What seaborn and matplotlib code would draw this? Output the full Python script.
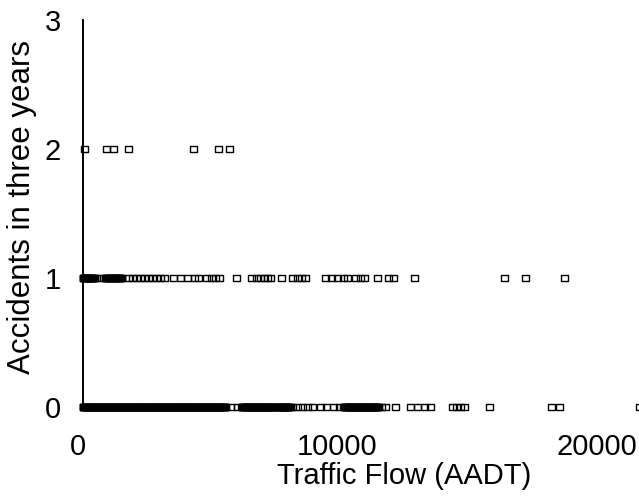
import matplotlib
matplotlib.use("Agg")
import matplotlib.pyplot as plt
import matplotlib.transforms as mtransforms
from matplotlib.path import Path
import seaborn as sns
import pandas as pd

# ---- data (AADT values) ----
aadt_two = [40, 890, 1160, 1740, 4250, 5210, 5640]

aadt_one = [0, 0, 15, 30, 50, 70, 90, 110, 135, 160, 180, 200, 225, 250, 275,
            300, 320, 340, 365, 390, 415, 440, 540, 730,
            850, 880, 910, 940, 970, 1000, 1030, 1060, 1090, 1120, 1150, 1180,
            1210, 1240, 1270, 1300, 1330, 1360, 1390, 1420, 1450, 1475, 1500,
            1737, 1892, 2046, 2201, 2355, 2510, 2664, 2819, 2973, 3127,
            3475, 3745, 4015, 4286, 4440, 4749, 4942, 5097, 5251, 5907,
            6486, 6680, 6834, 6988, 7100, 7220, 7645, 8069, 8263, 8417, 8571,
            9344, 9575, 9807, 10039, 10193, 10502, 10695, 10849, 11351,
            11776, 11969, 12780, 16255, 17066, 18571]

aadt_zero = [0, 0, 20, 35, 60, 85, 110, 130, 150, 180, 210, 235, 260, 280,
             300, 325, 350, 380, 410, 435, 460, 480, 500, 530, 560, 585, 610,
             635, 660, 680, 700, 730, 760, 785, 810, 830, 850, 880, 910, 935,
             960, 985, 1010, 1035, 1060, 1080, 1100, 1130, 1160, 1185, 1210,
             1230, 1250, 1280, 1310, 1335, 1360, 1385, 1410, 1435, 1460, 1480,
             1500, 1530, 1560, 1585, 1610, 1630, 1650, 1680, 1710, 1735, 1760,
             1780, 1800, 1830, 1860, 1885, 1910, 1935, 1960, 1985, 2010, 2030,
             2050, 2080, 2110, 2135, 2160, 2180, 2200, 2230, 2260, 2285, 2310,
             2335, 2360, 2385, 2410, 2430, 2450, 2480, 2510, 2535, 2560, 2580,
             2600, 2630, 2660, 2685, 2710, 2735, 2760, 2785, 2810, 2830, 2850,
             2880, 2910, 2935, 2960, 2980, 3000, 3030, 3060, 3085, 3110, 3135,
             3160, 3185, 3210, 3230, 3250, 3280, 3310, 3335, 3360, 3380, 3400,
             3430, 3460, 3485, 3510, 3535, 3560, 3585, 3610, 3630, 3650, 3680,
             3710, 3735, 3760, 3780, 3800, 3830, 3860, 3885, 3910, 3935, 3960,
             3985, 4010, 4030, 4050, 4080, 4110, 4135, 4160, 4180, 4200, 4230,
             4260, 4285, 4310, 4335, 4360, 4385, 4410, 4430, 4450, 4480, 4510,
             4535, 4560, 4580, 4600, 4630, 4660, 4685, 4710, 4735, 4760, 4785,
             4810, 4830, 4850, 4880, 4910, 4935, 4960, 4980, 5000, 5030, 5060,
             5085, 5110, 5135, 5160, 5185, 5210, 5230, 5250, 5280, 5310, 5335,
             5360, 5380, 5400, 5430, 5460, 5480, 5500,
             5676, 5946,
             6100, 6130, 6160, 6185, 6210, 6235, 6260, 6285, 6310, 6330, 6350,
             6380, 6410, 6435, 6460, 6480, 6500, 6530, 6560, 6585, 6610, 6635,
             6660, 6685, 6710, 6730, 6750, 6780, 6810, 6835, 6860, 6880, 6900,
             6930, 6960, 6985, 7010, 7035, 7060, 7085, 7110, 7130, 7150, 7180,
             7210, 7235, 7260, 7285, 7310, 7330, 7350,
             7413,
             7480, 7505, 7530, 7555, 7580, 7605, 7630, 7655, 7680, 7705, 7730,
             7755, 7780, 7805, 7830, 7855, 7880, 7905, 7930, 7960, 7990,
             8069, 8263, 8456, 8649, 8842, 9151, 9382, 9653, 9884,
             10040, 10065, 10090, 10115, 10140, 10165, 10190, 10215, 10240,
             10265, 10290, 10315, 10340, 10365, 10390, 10415, 10440, 10465,
             10490, 10515, 10540, 10565, 10590, 10615, 10640, 10665, 10690,
             10715, 10740, 10765, 10790, 10815, 10840, 10865, 10890, 10915,
             10940, 10965, 10990, 11015, 11040, 11065, 11090, 11115, 11140,
             11165, 11190, 11215, 11240, 11265, 11290, 11315, 11340, 11365,
             11390,
             11506, 11660, 12046, 12625, 12896, 13166, 13398, 14247, 14402,
             14556, 14710, 15676, 18069, 18378, 21430]

x_ticks = [0, 10000, 20000]
y_ticks = [0, 1, 2, 3]
x_label = "Traffic Flow (AADT)"
y_label = "Accidents in three years"

df = pd.DataFrame({
    "aadt": aadt_zero + aadt_one + aadt_two,
    "accidents": [0] * len(aadt_zero) + [1] * len(aadt_one) + [2] * len(aadt_two),
})

sns.set_theme(style="white")
plt.rcParams["font.family"] = ["Liberation Sans", "DejaVu Sans"]

fig = plt.figure(figsize=(6.39, 4.97), dpi=100)
ax = fig.add_axes([83 / 639, 1 - 407 / 497, 1 - 83 / 639, (407 - 20) / 497])

rect = Path([(-4, -3), (4, -3), (4, 3), (-4, 3), (-4, -3)],
            [Path.MOVETO, Path.LINETO, Path.LINETO, Path.LINETO, Path.CLOSEPOLY])

sns.scatterplot(data=df, x="aadt", y="accidents", ax=ax, marker=rect, s=25,
                color="black", facecolor="none", edgecolor="black",
                linewidth=1.0, clip_on=False, legend=False, zorder=3)

ax.set_xlim(0, 21425)
ax.set_ylim(0, 3)
ax.set_xticks(x_ticks)
ax.set_yticks(y_ticks)
ax.set_xticklabels([str(v) for v in x_ticks])
ax.set_yticklabels([str(v) for v in y_ticks])

for s in ["top", "right", "bottom"]:
    ax.spines[s].set_visible(False)
ax.spines["left"].set_color("black")
ax.spines["left"].set_linewidth(1.4)

ax.tick_params(axis="both", direction="inout", length=10, width=0.8,
               color="#8c8c8c", labelsize=21, labelcolor="black")
ax.tick_params(axis="y", pad=11)
ax.tick_params(axis="x", pad=14)

offset = mtransforms.ScaledTranslation(-5 / 100, 0, fig.dpi_scale_trans)
for lbl in ax.get_xticklabels():
    lbl.set_transform(lbl.get_transform() + offset)

ax.set_xlabel(x_label, fontsize=21, color="black")
ax.set_ylabel(y_label, fontsize=22.5, color="black")
ax.xaxis.set_label_coords(0.577, -0.142)
ax.yaxis.set_label_coords(-0.083, 0.517)
ax.grid(False)

fig.savefig("out.png", dpi=100, facecolor="white")
